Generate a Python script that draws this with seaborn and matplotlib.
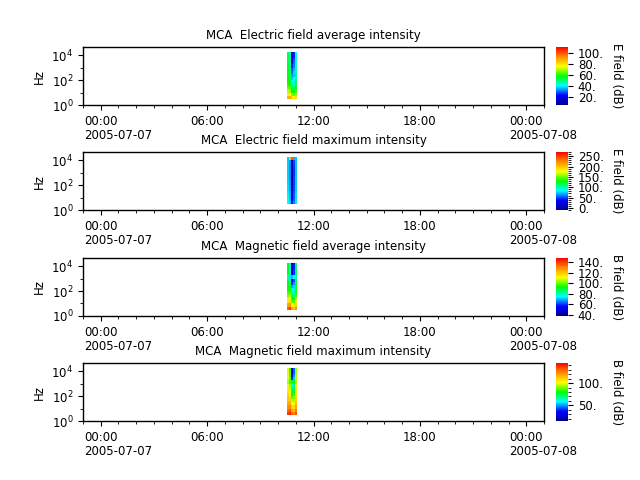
# ============================================================================
# LIBRARY IMPORTS
# ============================================================================
import numpy as np
import pandas as pd
import matplotlib
matplotlib.use('Agg')
import matplotlib.pyplot as plt
import matplotlib.dates as mdates
import matplotlib.ticker as mticker
import seaborn as sns

# ============================================================================
# DATA
# ============================================================================

# MCA frequency channels (Hz), used as the cell edges on the y axis
freq_hz = [3.16, 5.62, 10.0, 17.8, 31.6, 56.2, 100.0, 178.0,
           316.0, 562.0, 1000.0, 1780.0, 3160.0, 5620.0, 10000.0, 17800.0]

# time edges of the short pass
time_edges = ['2005-07-07 10:31', '2005-07-07 10:38', '2005-07-07 10:45',
              '2005-07-07 10:52', '2005-07-07 10:59', '2005-07-07 11:05']

# intensities in dB, rows = frequency band (low -> high), cols = time
e_avg = [
    [86, 88, 80, 76, 80],
    [78, 76, 66, 64, 70],
    [70, 68, 58, 56, 62],
    [64, 62, 52, 50, 56],
    [60, 58, 46, 45, 52],
    [58, 55, 40, 42, 50],
    [57, 52, 36, 40, 48],
    [56, 52, 34, 36, 48],
    [55, 50, 30, 38, 46],
    [55, 50, 28, 35, 46],
    [54, 48, 24, 32, 44],
    [54, 48, 20, 30, 44],
    [52, 46, 18, 28, 42],
    [52, 45, 14, 25, 40],
    [50, 45, 15, 25, 40],
]
e_max = [
    [85, 75, 40, 60, 80],
    [85, 72, 30, 55, 80],
    [80, 70, 25, 55, 78],
    [80, 68, 20, 52, 78],
    [78, 66, 15, 50, 76],
    [78, 65, 10, 50, 76],
    [76, 64, 8, 48, 75],
    [76, 64, 8, 48, 75],
    [76, 62, 5, 48, 75],
    [75, 62, 5, 46, 74],
    [75, 62, 5, 46, 74],
    [75, 62, 5, 46, 74],
    [75, 62, 8, 48, 74],
    [75, 64, 10, 50, 74],
    [75, 200, 240, 70, 74],
]
b_avg = [
    [135, 140, 125, 120, 128],
    [125, 128, 112, 108, 118],
    [115, 118, 100, 98, 110],
    [108, 110, 92, 90, 104],
    [102, 104, 86, 84, 98],
    [98, 98, 80, 80, 94],
    [94, 94, 74, 76, 92],
    [92, 90, 68, 72, 90],
    [90, 85, 60, 68, 88],
    [88, 80, 55, 62, 86],
    [80, 72, 70, 75, 80],
    [90, 76, 50, 60, 86],
    [90, 76, 46, 60, 86],
    [90, 75, 44, 58, 86],
    [90, 75, 42, 58, 86],
]
b_max = [
    [135, 140, 128, 125, 132],
    [128, 132, 118, 115, 125],
    [122, 125, 110, 108, 118],
    [118, 118, 102, 100, 114],
    [112, 112, 95, 95, 110],
    [110, 108, 88, 90, 108],
    [108, 104, 80, 85, 106],
    [106, 100, 72, 80, 104],
    [104, 96, 66, 75, 102],
    [100, 92, 60, 70, 100],
    [95, 85, 75, 80, 95],
    [100, 88, 40, 55, 95],
    [100, 86, 32, 50, 95],
    [98, 86, 28, 45, 92],
    [98, 85, 25, 45, 92],
]

titles = ['MCA  Electric field average intensity',
          'MCA  Electric field maximum intensity',
          'MCA  Magnetic field average intensity',
          'MCA  Magnetic field maximum intensity']
cbar_labels = ['E field (dB)', 'E field (dB)', 'B field (dB)', 'B field (dB)']
color_limits = [(5, 110), (-10, 270), (38, 148), (15, 145)]
cbar_major = [20, 50, 20, 50]
cbar_minor = [None, 10, None, 10]

# ============================================================================
# STYLE
# ============================================================================
sns.set_style('ticks', {'axes.edgecolor': 'black', 'text.color': 'black',
                        'xtick.color': 'black', 'ytick.color': 'black',
                        'axes.labelcolor': 'black'})
fs = 8.5
plt.rcParams['font.family'] = ['DejaVu Sans']
plt.rcParams['font.size'] = fs
plt.rcParams['axes.titlesize'] = fs
plt.rcParams['axes.labelsize'] = fs
plt.rcParams['xtick.labelsize'] = fs
plt.rcParams['ytick.labelsize'] = fs
plt.rcParams['axes.linewidth'] = 1.0

spec_cmap = sns.blend_palette(['#000090', '#0000ff', '#00ffff', '#00ff00',
                               '#ffff00', '#ff8c00', '#ff0000'], as_cmap=True)

# ============================================================================
# FIGURE
# ============================================================================
fig = plt.figure(figsize=(6.4, 4.8), dpi=100)

t_num = mdates.date2num(pd.to_datetime(time_edges))
x_start = mdates.date2num(pd.Timestamp('2005-07-06 23:00'))
x_end = mdates.date2num(pd.Timestamp('2005-07-08 01:00'))

panels = [e_avg, e_max, b_avg, b_max]
bottoms = [0.78125, 0.5625, 0.3417, 0.1229]
axes = []

for i, values in enumerate(panels):
    ax = fig.add_axes([0.1297, bottoms[i], 0.7203, 0.1208])
    cax = fig.add_axes([0.8688, bottoms[i], 0.01875, 0.1208])
    vmin, vmax = color_limits[i]
    mesh = ax.pcolormesh(t_num, freq_hz, np.array(values), cmap=spec_cmap,
                         vmin=vmin, vmax=vmax, shading='flat')

    ax.set_yscale('log')
    ax.set_ylim(1, 4.4e4)
    ax.yaxis.set_major_locator(mticker.FixedLocator([1, 1e2, 1e4]))
    ax.yaxis.set_minor_locator(mticker.FixedLocator([10, 1e3]))
    ax.yaxis.set_major_formatter(mticker.LogFormatterSciNotation())
    ax.yaxis.set_minor_formatter(mticker.NullFormatter())
    ax.set_ylabel('Hz')

    ax.set_xlim(x_start, x_end)
    ax.xaxis.set_major_locator(mdates.HourLocator(byhour=[0, 6, 12, 18]))
    ax.xaxis.set_minor_locator(mdates.HourLocator())
    ax.xaxis.set_major_formatter(mdates.DateFormatter('%H:%M'))
    ax.set_title(titles[i])

    cb = fig.colorbar(mesh, cax=cax)
    cb.outline.set_visible(False)
    cb.ax.yaxis.set_major_locator(mticker.MultipleLocator(cbar_major[i]))
    if cbar_minor[i]:
        cb.ax.yaxis.set_minor_locator(mticker.MultipleLocator(cbar_minor[i]))
    cb.ax.yaxis.set_major_formatter(
        mticker.FuncFormatter(lambda v, p: f'{v:.0f}.'))
    cb.set_label(cbar_labels[i], rotation=270, labelpad=14)
    axes.append(ax)

# ============================================================================
# DATE LINE UNDER THE MIDNIGHT LABELS
# ============================================================================
fig.canvas.draw()
renderer = fig.canvas.get_renderer()
W, H = fig.bbox.width, fig.bbox.height
for ax in axes:
    for label in ax.get_xticklabels():
        if label.get_text() != '00:00':
            continue
        x = label.get_position()[0]
        if x < x_start or x > x_end:
            continue
        bb = label.get_window_extent(renderer)
        day = mdates.num2date(x).strftime('%Y-%m-%d')
        fig.text(bb.x0 / W, (bb.y0 - 1) / H, day, ha='left', va='top',
                 fontsize=fs)

plt.savefig('out.png', dpi=100, facecolor='white')
